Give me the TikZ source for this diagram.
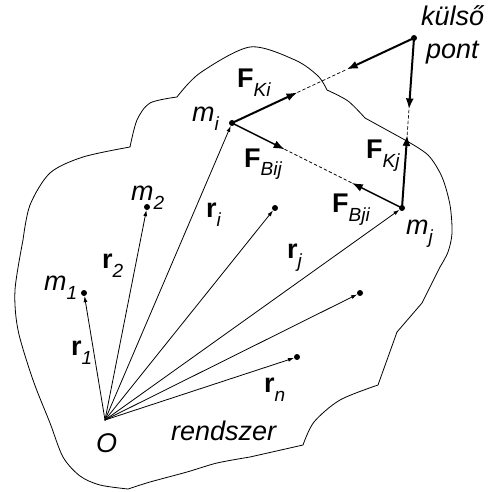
\documentclass[tikz,border=0pt]{standalone}
\usepackage{fontspec}
\setmainfont{Liberation Sans}
\usetikzlibrary{arrows.meta,calc}
\newcommand{\idx}[2]{#1\raisebox{-9pt}{\fontsize{19}{19}\selectfont\itshape #2}}
\begin{document}
\begin{tikzpicture}[x=1pt,y=-1pt,line join=round,line cap=round,
	pont/.style={circle,fill,inner sep=0pt,minimum size=6pt},
	felirat/.style={anchor=base west,inner sep=0pt,font=\fontsize{27}{30}\selectfont},
	vek/.style={line width=.8pt,-{Latex[length=6pt,width=4pt]}},
	ero/.style={line width=2pt,-{Latex[length=11pt,width=8pt]}},
	szagg/.style={line width=.7pt,dash pattern=on 3pt off 2.5pt}]
	\useasboundingbox (0,0) rectangle (495,492);
	% a rendszer hatara
	\draw [line width=.8pt] plot[smooth] coordinates {(177,97) (200,73) (250,47) (295,60) (318,76) (327,90)}
	-- plot[smooth] coordinates {(327,90) (348,101) (365,118)} -- (405,140)
	-- plot[smooth] coordinates {(405,140) (428,155) (442,177) (450,205) (452,233) (448,252) (440,267)}
	-- (422,303) -- (397,332) -- (378,385)
	-- plot[smooth] coordinates {(378,385) (340,400) (314,422) (303,445)}
	-- (250,457) -- plot[smooth] coordinates {(250,457) (217,463) (187,472) (150,482) (128,489)}
	-- plot[smooth] coordinates {(128,489) (100,485) (80,476) (63,457) (50,423) (33,380) (18,330) (15,290) (23,240)}
	-- plot[smooth] coordinates {(23,240) (30,205) (50,173) (83,157) (130,147)}
	-- plot[smooth] coordinates {(130,147) (137,120) (150,103) (177,97)} -- cycle;
	% pontok
	\coordinate (O) at (105,420);
	\node [pont] (m1) at (84,293) {};
	\node [pont] (m2) at (147,207) {};
	\node [pont] (mi) at (232,123) {};
	\node [pont] (mk) at (275,208) {};
	\node [pont] (mj) at (402,208) {};
	\node [pont] (ml) at (360,293) {};
	\node [pont] (mn) at (297,357) {};
	\node [pont] (kp) at (414,38) {};
	\foreach \p in {m1,m2,mi,mk,mj,ml,mn}
	\draw [vek] (O) -- (\p);
	% erok
	\path ($(mi)!.36!(kp)$) coordinate (fki)
	($(mi)!.63!(kp)$) coordinate (kki)
	($(mi)!.31!(mj)$) coordinate (fbij)
	($(mi)!.705!(mj)$) coordinate (fbji)
	($(mj)!.43!(kp)$) coordinate (fkj)
	($(mj)!.58!(kp)$) coordinate (kkj);
	\draw [ero] (mi.center) -- (fki);
	\draw [szagg] (fki) -- (kki);
	\draw [ero] (kp.center) -- (kki);
	\draw [ero,line width=1.5pt] (mi.center) -- (fbij);
	\draw [szagg] (fbij) -- (fbji);
	\draw [ero,line width=1.5pt] (mj.center) -- (fbji);
	\draw [ero] (mj.center) -- (fkj);
	\draw [szagg] (fkj) -- (kkj);
	\draw [ero] (kp.center) -- (kkj);
	% feliratok
	\node [felirat] (lkulso) at (421,26) {\itshape külső};
	\node [felirat] (lpont) at (426,59) {\itshape pont};
	\node [felirat] (lFKi) at (237,88) {\idx{\textbf{F}}{Ki}};
	\node [felirat] (lFBij) at (244,167) {\idx{\textbf{F}}{Bij}};
	\node [felirat] (lFBji) at (332,212) {\idx{\textbf{F}}{Bji}};
	\node [felirat] (lFKj) at (366,158) {\idx{\textbf{F}}{Kj}};
	\node [felirat] (lmi) at (192,122) {\idx{\textit{m}}{i}};
	\node [felirat] (lmj) at (406,234) {\idx{\textit{m}}{j}};
	\node [felirat] (lm1) at (44,290) {\idx{\textit{m}}{1}};
	\node [felirat] (lm2) at (131,200) {\idx{\textit{m}}{2}};
	\node [felirat] (lr1) at (71,355) {\idx{\textbf{r}}{1}};
	\node [felirat] (lr2) at (102,268) {\idx{\textbf{r}}{2}};
	\node [felirat] (lri) at (206,217) {\idx{\textbf{r}}{i}};
	\node [felirat] (lrj) at (287,258) {\idx{\textbf{r}}{j}};
	\node [felirat] (lrn) at (264,392) {\idx{\textbf{r}}{n}};
	\node [felirat] (lO) at (96,452) {\itshape O};
	\node [felirat] (lrendszer) at (171,440) {\itshape rendszer};
\end{tikzpicture}
\end{document}
